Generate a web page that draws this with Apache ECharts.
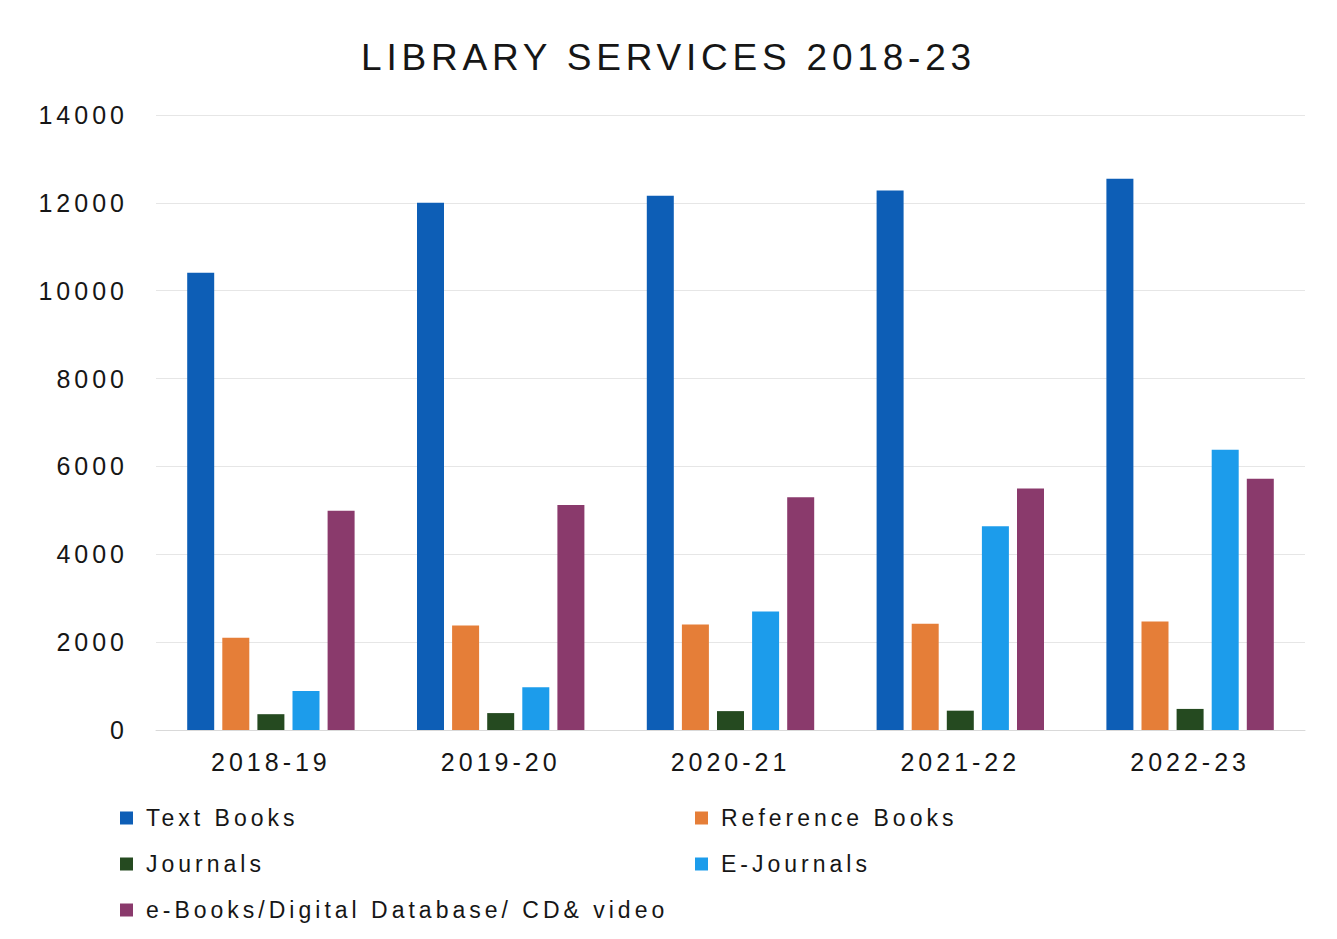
<!DOCTYPE html>
<html>
<head>
<meta charset="utf-8">
<script src="https://cdn.jsdelivr.net/npm/echarts@6/dist/echarts.min.js"></script>
<style>
html,body{margin:0;padding:0;background:#fff;}
#chart{width:1337px;height:939px;}
</style>
</head>
<body>
<div id="chart"></div>
<script>
const categories = ['2018-19','2019-20','2020-21','2021-22','2022-23'];
const seriesNames = ['Text Books','Reference Books','Journals','E-Journals','e-Books/Digital Database/ CD& video'];
const textBooks = [10410, 12000, 12160, 12280, 12550];
const referenceBooks = [2100, 2380, 2400, 2420, 2470];
const journals = [360, 385, 430, 440, 480];
const eJournals = [885, 975, 2700, 4640, 6380];
const eBooks = [4990, 5120, 5300, 5500, 5720];
const yTicks = [0, 2000, 4000, 6000, 8000, 10000, 12000, 14000];

const colors = ['#0D5EB6','#E57E38','#254A20','#1C9CEB','#8A3A6C'];
const values = [textBooks, referenceBooks, journals, eJournals, eBooks];
const font = 'Liberation Sans';
const ink = '#161616';

const chart = echarts.init(document.getElementById('chart'), null, { renderer: 'svg' });
const legendBase = {
  orient: 'vertical', itemGap: 22, padding: 0,
  itemWidth: 13, itemHeight: 13, icon: 'rect',
  textStyle: { fontFamily: font, fontSize: 23, color: ink, lineHeight: 24, padding: [0,0,0,8] }
};
chart.setOption({
  backgroundColor: '#ffffff',
  animation: false,
  color: colors,
  title: {
    text: 'LIBRARY SERVICES 2018-23',
    left: 'center',
    top: 34,
    textStyle: { fontFamily: font, fontSize: 37, fontWeight: 'normal', color: ink }
  },
  grid: { left: 156, right: 32, top: 115, bottom: 209, containLabel: false },
  legend: [
    Object.assign({ data: [seriesNames[0], seriesNames[2], seriesNames[4]], left: 120, top: 806 }, legendBase),
    Object.assign({ data: [seriesNames[1], seriesNames[3]], left: 695, top: 806 }, legendBase)
  ],
  xAxis: {
    type: 'category',
    data: categories,
    axisLine: { lineStyle: { color: '#d9d9d9', width: 1 } },
    axisTick: { show: false },
    axisLabel: { fontFamily: font, fontSize: 25, color: ink, margin: 19 }
  },
  yAxis: {
    type: 'value',
    min: yTicks[0],
    max: yTicks[yTicks.length - 1],
    interval: yTicks[1] - yTicks[0],
    axisLine: { show: false },
    axisTick: { show: false },
    splitLine: { lineStyle: { color: '#e6e6e6', width: 1 } },
    axisLabel: { fontFamily: font, fontSize: 25, color: ink, margin: 28, formatter: v => String(v) }
  },
  series: seriesNames.map((name, i) => ({
    name: name,
    type: 'bar',
    data: values[i],
    barWidth: 27,
    barGap: '30%',
    itemStyle: { color: colors[i] }
  }))
});

function spaceText() {
  document.querySelectorAll('#chart svg text').forEach(t => {
    const fs = parseFloat(getComputedStyle(t).fontSize) || 20;
    t.style.letterSpacing = (fs > 30 ? 4.8 : 4) + 'px';
  });
}
spaceText();
chart.on('finished', spaceText);
</script>
</body>
</html>
